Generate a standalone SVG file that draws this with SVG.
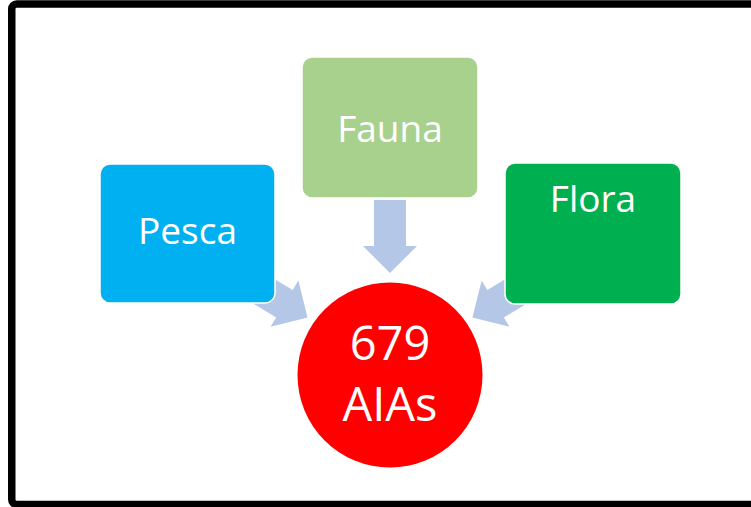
<svg xmlns="http://www.w3.org/2000/svg" width="751" height="507" viewBox="0 0 751 507">
<style>
.box{stroke:#fff;stroke-width:1.5}
.lbl{font-family:"Open Sans","Liberation Sans",sans-serif;fill:#fff;text-anchor:middle}
.arr{fill:#B4C7E7}
</style>
<rect x="0" y="0" width="751" height="507" fill="#fff"/>
<rect x="11.75" y="4" width="800" height="500.5" rx="5" fill="none" stroke="#000" stroke-width="7.5"/>
<g id="connectors">
<polygon class="arr" points="374,200 406,200 406,246 417,246 390,273 363,246 374,246"/>
<polygon class="arr" points="0,-16 46,-16 46,-27 73,0 46,27 46,16 0,16" transform="translate(245,280) rotate(31)"/>
<polygon class="arr" points="0,-16 46,-16 46,-27 73,0 46,27 46,16 0,16" transform="translate(535,280) rotate(149)"/>
</g>
<g id="pesca">
<rect class="box" x="100" y="164" width="175" height="139" rx="10" fill="#00B0F0"/>
<text class="lbl" x="187.5" y="244" font-size="37">Pesca</text>
</g>
<g id="fauna">
<rect class="box" x="302" y="57" width="176" height="141" rx="10" fill="#A9D18E"/>
<text class="lbl" x="390" y="142" font-size="37">Fauna</text>
</g>
<g id="flora">
<rect class="box" x="505" y="163" width="176" height="141" rx="10" fill="#00B050"/>
<text class="lbl" x="593" y="212" font-size="37">Flora</text>
</g>
<g id="aias">
<circle cx="390" cy="375" r="92.5" fill="#FF0000"/>
<text class="lbl" x="390" y="360" font-size="47">679</text>
<text class="lbl" x="390" y="421" font-size="47">AIAs</text>
</g>
</svg>
